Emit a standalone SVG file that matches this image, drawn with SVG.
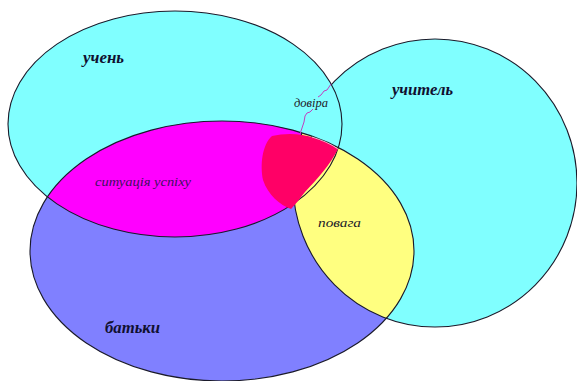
<svg xmlns="http://www.w3.org/2000/svg" width="577" height="381" viewBox="0 0 577 381">
<style>
.ln{fill:none;stroke:#1a1a2a;stroke-width:1.1}
.lbl{font-family:"Liberation Serif","DejaVu Serif",serif;font-style:italic;font-weight:bold;font-size:16px;fill:#101030}
.sm{font-family:"Liberation Serif","DejaVu Serif",serif;font-style:italic;font-size:13px;fill:#202028}
.sy{fill:#401060}
</style>
<defs>
<ellipse id="e1" cx="175" cy="124" rx="167" ry="113"/>
<ellipse id="e2" cx="435" cy="183" rx="142" ry="144"/>
<ellipse id="e3" cx="222" cy="251" rx="192" ry="130"/>
<clipPath id="c1"><use href="#e1"/></clipPath>
<clipPath id="c2"><use href="#e2"/></clipPath>
<clipPath id="c3"><use href="#e3"/></clipPath>
</defs>
<rect width="577" height="381" fill="#fff"/>
<g id="uchytel">
<use href="#e2" fill="#80ffff" stroke="#1a1a2a" stroke-width="1.1"/>
</g>
<g id="uchen">
<use href="#e1" fill="#80ffff"/>
</g>
<g id="batky">
<use href="#e3" fill="#8080ff"/>
</g>
<g id="sytuatsiia-uspikhu">
<use href="#e1" fill="#ff00ff" clip-path="url(#c3)"/>
</g>
<g id="povaha">
<use href="#e2" fill="#ffff80" clip-path="url(#c3)"/>
</g>
<g id="outlines">
<use href="#e2" class="ln" clip-path="url(#c3)"/>
<use href="#e1" class="ln"/>
<use href="#e3" class="ln"/>
</g>
<g id="dovira">
<path d="M272,136 C285,133 300,133 315,138 C325,141 333,145 338,149 C330,165 318,178 305,192 C300,198 296,204 291,209 C280,205 268,195 263,180 C260,165 262,145 272,136 Z" fill="#ff0066"/>
<path d="M312,137 C322,140 331,144 338,149" fill="none" stroke="#ffffff" stroke-width="0.8" opacity="0.8"/>
</g>
<g id="connectors">
<polyline points="331,84 327,90 324,91 321,95 318,97" fill="none" stroke="#c040c0" stroke-width="1"/>
<polyline points="313,109 310,112 307,113 305,116 304,122 302,128 300,134" fill="none" stroke="#c040c0" stroke-width="1"/>
</g>
<g id="labels">
<text class="lbl" x="83" y="63" textLength="41" lengthAdjust="spacingAndGlyphs">учень</text>
<text class="lbl" x="392" y="95" textLength="61" lengthAdjust="spacingAndGlyphs">учитель</text>
<text class="lbl" x="105" y="333" textLength="55" lengthAdjust="spacingAndGlyphs">батьки</text>
<text class="sm" x="294" y="107" font-size="14" textLength="34" lengthAdjust="spacingAndGlyphs">довіра</text>
<text class="sm sy" x="95" y="186" textLength="96" lengthAdjust="spacingAndGlyphs">ситуація успіху</text>
<text class="sm" x="318" y="227" textLength="43" lengthAdjust="spacingAndGlyphs">повага</text>
</g>
</svg>
